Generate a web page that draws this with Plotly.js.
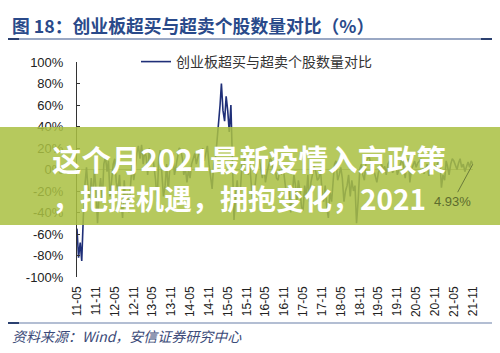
<!DOCTYPE html>
<html>
<head>
<meta charset="utf-8">
<script src="https://cdn.plot.ly/plotly-3.0.1.min.js"></script>
<style>html,body{margin:0;padding:0;background:#fff;}#chart{width:500px;height:353px;}</style>
</head>
<body>
<div id="chart"></div>
<script>
// ---- data ----
const seriesName = "创业板超买与超卖个股数量对比";
const dates = [
"2011-05-01","2011-05-16","2011-06-01","2011-06-16","2011-07-01","2011-07-16","2011-08-01","2011-08-16","2011-09-01","2011-09-16","2011-10-01","2011-10-16","2011-11-01","2011-11-16","2011-12-01","2011-12-16",
"2012-01-01","2012-01-16","2012-02-01","2012-02-16","2012-03-01","2012-03-16","2012-04-01","2012-04-16","2012-05-01","2012-05-16","2012-06-01","2012-06-16","2012-07-01","2012-07-16","2012-08-01","2012-08-16","2012-09-01","2012-09-16","2012-10-01","2012-10-16","2012-11-01","2012-11-16","2012-12-01","2012-12-16",
"2013-01-01","2013-01-16","2013-02-01","2013-02-16","2013-03-01","2013-03-16","2013-04-01","2013-04-16","2013-05-01","2013-05-16","2013-06-01","2013-06-16","2013-07-01","2013-07-16","2013-08-01","2013-08-16","2013-09-01","2013-09-16","2013-10-01","2013-10-16","2013-11-01","2013-11-16","2013-12-01","2013-12-16",
"2014-01-01","2014-01-16","2014-02-01","2014-02-16","2014-03-01","2014-03-16","2014-04-01","2014-04-16","2014-05-01","2014-05-16","2014-06-01","2014-06-16","2014-07-01","2014-07-16","2014-08-01","2014-08-16","2014-09-01","2014-09-16","2014-10-01","2014-10-16","2014-11-01","2014-11-16","2014-12-01","2014-12-16",
"2015-01-01","2015-01-16","2015-02-01","2015-02-16","2015-03-01","2015-03-16","2015-04-01","2015-04-16","2015-05-01","2015-05-16","2015-06-01","2015-06-16","2015-07-01","2015-07-16","2015-08-01","2015-08-16","2015-09-01","2015-09-16","2015-10-01","2015-10-16","2015-11-01","2015-11-16","2015-12-01","2015-12-16",
"2016-01-01","2016-01-16","2016-02-01","2016-02-16","2016-03-01","2016-03-16","2016-04-01","2016-04-16","2016-05-01","2016-05-16","2016-06-01","2016-06-16","2016-07-01","2016-07-16","2016-08-01","2016-08-16","2016-09-01","2016-09-16","2016-10-01","2016-10-16","2016-11-01","2016-11-16","2016-12-01","2016-12-16",
"2017-01-01","2017-01-16","2017-02-01","2017-02-16","2017-03-01","2017-03-16","2017-04-01","2017-04-16","2017-05-01","2017-05-16","2017-06-01","2017-06-16","2017-07-01","2017-07-16","2017-08-01","2017-08-16","2017-09-01","2017-09-16","2017-10-01","2017-10-16","2017-11-01","2017-11-16","2017-12-01","2017-12-16",
"2018-01-01","2018-01-16","2018-02-01","2018-02-16","2018-03-01","2018-03-16","2018-04-01","2018-04-16","2018-05-01","2018-05-16","2018-06-01","2018-06-16","2018-07-01","2018-07-16","2018-08-01","2018-08-16","2018-09-01","2018-09-16","2018-10-01","2018-10-16","2018-11-01","2018-11-16","2018-12-01","2018-12-16",
"2019-01-01","2019-01-16","2019-02-01","2019-02-16","2019-03-01","2019-03-16","2019-04-01","2019-04-16","2019-05-01","2019-05-16","2019-06-01","2019-06-16","2019-07-01","2019-07-16","2019-08-01","2019-08-16","2019-09-01","2019-09-16","2019-10-01","2019-10-16","2019-11-01","2019-11-16","2019-12-01","2019-12-16",
"2020-01-01","2020-01-16","2020-02-01","2020-02-16","2020-03-01","2020-03-16","2020-04-01","2020-04-16","2020-05-01","2020-05-16","2020-06-01","2020-06-16","2020-07-01","2020-07-16","2020-08-01","2020-08-16","2020-09-01","2020-09-16","2020-10-01","2020-10-16","2020-11-01","2020-11-16","2020-12-01","2020-12-16",
"2021-01-01","2021-01-16","2021-02-01","2021-02-16","2021-03-01","2021-03-16","2021-04-01","2021-04-16","2021-05-01","2021-05-16","2021-06-01","2021-06-16","2021-07-01","2021-07-16","2021-08-01","2021-08-16","2021-09-01","2021-09-16","2021-10-01","2021-10-16","2021-11-01"
];
const values = [
-55,-82,-68,-85,-45,-15,2,-18,-28,-8,-30,0,-18,-50,-22,-8,
-30,5,12,-2,8,-25,-10,5,10,-12,-20,-5,-30,-45,-10,-35,-20,-40,-15,5,-10,0,15,22,
10,23,5,18,12,-5,20,8,15,5,-10,-30,10,18,-5,-25,-15,5,-20,0,10,15,-5,5,
12,20,18,10,-5,2,-12,0,-8,5,10,15,5,12,18,10,20,8,15,22,5,-10,-18,5,
10,25,40,60,80,55,45,68,55,35,60,-10,-47,-25,-10,-30,-20,5,0,15,10,-5,5,-15,
-35,-20,-5,8,10,0,-8,5,-12,-3,5,10,8,-5,3,-8,-10,0,-5,5,-8,-20,-25,-15,
-40,-20,-5,-15,-30,-10,-20,-35,-38,-15,-25,-5,-30,-12,-5,3,-2,-10,-8,0,-20,-30,-15,-35,
-45,-20,-30,-5,5,8,-10,-5,2,-8,-30,-20,-15,-5,-25,-10,-20,-15,-50,-30,0,5,-5,-10,
8,10,12,5,8,0,-5,-12,-3,2,5,0,3,-5,5,8,2,-3,0,5,-5,0,6,10,
3,-8,8,10,-12,0,4,8,2,6,8,10,5,-4,0,5,-6,2,3,6,0,4,8,10,
-17,-5,-10,8,3,-5,5,10,8,3,0,6,10,2,5,-2,3,7,2,8,4.93
];
const xTickVals = ["2011-05-01","2011-11-01","2012-05-01","2012-11-01","2013-05-01","2013-11-01","2014-05-01","2014-11-01","2015-05-01","2015-11-01","2016-05-01","2016-11-01","2017-05-01","2017-11-01","2018-05-01","2018-11-01","2019-05-01","2019-11-01","2020-05-01","2020-11-01","2021-05-01","2021-11-01"];
const xTickText = ["11-05","11-11","12-05","12-11","13-05","13-11","14-05","14-11","15-05","15-11","16-05","16-11","17-05","17-11","18-05","18-11","19-05","19-11","20-05","20-11","21-05","21-11"];
const yTickVals = [100,80,60,40,20,0,-20,-40,-60,-80,-100];
const yTickText = ["100%","80%","60%","40%","20%","0%","-20%","-40%","-60%","-80%","-100%"];
const lastLabel = "4.93%";

// ---- layout helpers (pixel -> paper) ----
const W = 500, H = 353, L = 77, R = 27, T = 62, B = 76;
const pw = W - L - R, ph = H - T - B;
const px = x => (x - L) / pw;
const py = y => (H - B - y) / ph;

const trace = {
  x: dates, y: values, type: "scatter", mode: "lines", name: seriesName,
  line: {color: "#1f2f78", width: 1.6}
};

const shapes = [
  // title underline
  {type:"line", xref:"paper", yref:"paper", x0:px(8), x1:px(492), y0:py(39), y1:py(39), line:{color:"#9aa8c4", width:2}},
  {type:"line", xref:"paper", yref:"paper", x0:px(8), x1:px(19), y0:py(39), y1:py(39), line:{color:"#2b4070", width:2}},
  {type:"line", xref:"paper", yref:"paper", x0:px(481), x1:px(492), y0:py(39), y1:py(39), line:{color:"#2b4070", width:2}},
  // source separator
  {type:"line", xref:"paper", yref:"paper", x0:px(8), x1:px(492), y0:py(323), y1:py(323), line:{color:"#9aa8c4", width:1.5}},
  {type:"line", xref:"paper", yref:"paper", x0:px(8), x1:px(19), y0:py(323), y1:py(323), line:{color:"#2b4070", width:2}},
  // overlay banner
  {type:"rect", xref:"paper", yref:"paper", layer:"above", x0:px(0), x1:px(500), y0:py(127), y1:py(225),
   fillcolor:"rgba(170,192,66,0.86)", line:{width:0}}
];

const annotations = [
  {xref:"paper", yref:"paper", x:px(10), y:py(25), xanchor:"left", yanchor:"middle", showarrow:false,
   text:"<b>图 18：创业板超买与超卖个股数量对比（%）</b>",
   font:{family:"Noto Sans CJK SC", size:17.8, color:"#2a4a8a"}},
  {xref:"paper", yref:"paper", x:px(10), y:py(336), xanchor:"left", yanchor:"middle", showarrow:false,
   text:"资料来源：Wind，安信证券研究中心",
   font:{family:"Noto Sans CJK SC", size:14, color:"#3b4a78", style:"italic"}},
  {x: dates[dates.length-1], y: values[values.length-1], xref:"x", yref:"y",
   text: lastLabel, showarrow:true, arrowhead:0, arrowwidth:1, arrowcolor:"#6a7a3a",
   ax:-20, ay:37, font:{family:"Liberation Sans, Arial", size:13, color:"#5d6c2e"}},
  {xref:"paper", yref:"paper", x:px(50), y:py(158), xanchor:"left", yanchor:"middle", showarrow:false,
   text:"<b>这个月2021最新疫情入京政策</b>",
   font:{family:"Noto Sans CJK SC", size:29.5, color:"#ffffff"}},
  {xref:"paper", yref:"paper", x:px(50), y:py(198), xanchor:"left", yanchor:"middle", showarrow:false,
   text:"<b>，把握机遇，拥抱变化，2021</b>",
   font:{family:"Noto Sans CJK SC", size:28, color:"#ffffff"}}
];

const layout = {
  width: W, height: H,
  margin: {l: L, r: R, t: T, b: B, pad: 0},
  paper_bgcolor: "#ffffff", plot_bgcolor: "#ffffff",
  showlegend: true,
  legend: {x: px(136), y: 1, xanchor: "left", yanchor: "middle", orientation: "h",
           bgcolor: "rgba(0,0,0,0)", borderwidth: 0,
           font: {family: "Noto Sans CJK SC", size: 14, color: "#333"}},
  xaxis: {type: "date", range: ["2011-05-01", "2021-11-03"], tickvals: xTickVals, ticktext: xTickText,
          tickangle: -90, showgrid: false, zeroline: false, showline: false, ticks: "",
          ticklabelstandoff: 6,
          tickfont: {family: "Liberation Sans, Arial", size: 12, color: "#222"}},
  yaxis: {range: [-100, 100], tickvals: yTickVals, ticktext: yTickText, showgrid: false,
          zeroline: true, zerolinecolor: "#a0a0a0", zerolinewidth: 1,
          showline: true, linecolor: "#333", linewidth: 1,
          ticks: "inside", ticklen: 3, tickcolor: "#333",
          ticklabelstandoff: 10,
          tickfont: {family: "Liberation Sans, Arial", size: 13, color: "#222"}},
  shapes: shapes,
  annotations: annotations
};

Plotly.newPlot("chart", [trace], layout, {staticPlot: true, displayModeBar: false});
</script>
</body>
</html>
